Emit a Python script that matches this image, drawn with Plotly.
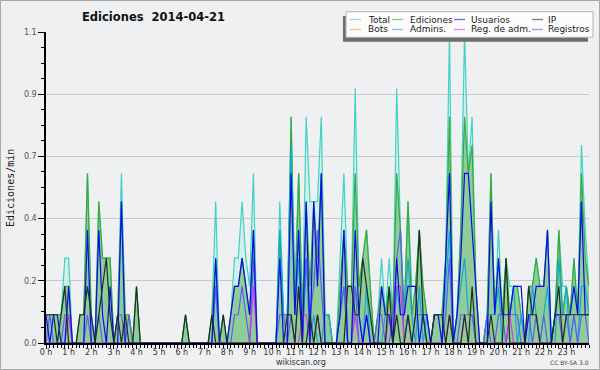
import plotly.graph_objects as go

# ---- data: edits per minute in 10-minute steps, 2014-04-21 (145 points, 0 h .. 24 h) ----
hour_labels = [f"{h} h" for h in range(24)]
times = [i / 6 for i in range(145)]

total = [0.1,0.1,0.1,0.1,0.1,0.3, 0.3,0,0,0.1,0.1,0.6, 0.1,0,0.5,0.3,0.3,0.3, 0,0.1,0.6,0.1,0.1,0,
         0.2,0,0,0,0,0, 0,0,0,0,0,0, 0,0.1,0,0,0,0, 0,0,0.1,0.5,0,0.1,
         0,0.1,0.3,0.3,0.5,0.3, 0.2,0.6,0,0,0,0, 0,0,0.5,0.1,0.1,0.8, 0.2,0.6,0.1,0.8,0.5,0.5,
         0.5,0.8,0.1,0.1,0,0, 0.3,0.6,0.2,0.2,0.9,0.2, 0.3,0.4,0.2,0,0.1,0.3, 0.1,0.3,0.1,0.9,0.4,0.1,
         0.5,0.2,0.2,0.4,0.2,0.1, 0,0.1,0.1,0.1,0.3,1.1, 0,0.1,0.4,1.1,0.6,0.8, 0.2,0,0,0.1,0.6,0.1,
         0.4,0.1,0.3,0.2,0.2,0.2, 0.1,0,0.2,0.2,0.3,0.2, 0.2,0.4,0,0.1,0.4,0.2, 0.2,0.1,0.3,0.1,0.7,0.4,
         0.2]
ediciones = [0.1,0.1,0.1,0.1,0.1,0.2, 0.2,0,0,0.1,0.1,0.6, 0.1,0,0.5,0.3,0.3,0.3, 0,0.1,0.5,0.1,0.1,0,
             0.2,0,0,0,0,0, 0,0,0,0,0,0, 0,0.1,0,0,0,0, 0,0,0.1,0.3,0,0.1,
             0,0.1,0.2,0.2,0.3,0.2, 0.1,0.4,0,0,0,0, 0,0,0.4,0.1,0.1,0.8, 0.1,0.6,0.1,0.5,0.2,0.5,
             0.3,0.6,0.1,0.1,0,0, 0.2,0.4,0.2,0.2,0.6,0.2, 0.3,0.4,0.2,0,0.1,0.2, 0.1,0.2,0.1,0.6,0.4,0.1,
             0.5,0.1,0.2,0.4,0.2,0.1, 0,0.1,0.1,0.1,0.3,0.8, 0,0.1,0.4,0.8,0.6,0.7, 0.2,0,0,0.1,0.6,0.1,
             0.3,0.1,0.3,0.1,0.2,0.2, 0.1,0,0.2,0.2,0.3,0.2, 0.2,0.4,0,0.1,0.4,0.1, 0.2,0.1,0.3,0.1,0.6,0.3,
             0.2]
usuarios = [0.1,0,0.1,0.1,0,0, 0.2,0,0,0,0,0.4, 0,0,0.4,0.1,0,0.2, 0,0,0.5,0,0,0,
            0,0,0,0,0,0, 0,0,0,0,0,0, 0,0,0,0,0,0, 0,0,0,0.3,0,0,
            0,0.1,0.2,0.2,0.3,0.2, 0.1,0.4,0,0,0,0, 0,0,0.3,0,0,0.6, 0.1,0.4,0,0.5,0,0.5,
            0.2,0.6,0,0,0,0, 0.1,0.4,0,0,0.4,0.1, 0,0.1,0,0,0,0.2, 0.1,0.1,0,0.3,0.1,0.1,
            0.2,0.2,0.2,0,0.1,0.1, 0,0.1,0.1,0,0.3,0.6, 0,0.1,0.3,0.6,0.6,0.4, 0.2,0,0,0,0.5,0.1,
            0.3,0.1,0.1,0.1,0.2,0.2, 0.2,0,0.1,0.1,0.2,0.2, 0.2,0.4,0,0.1,0.1,0.1, 0.1,0.1,0.2,0.1,0.5,0.1,
            0.1]
ip = [0.1,0.1,0.1,0,0.1,0.2, 0,0,0,0.1,0.1,0.2, 0.1,0,0.1,0.2,0.3,0.1, 0,0.1,0,0.1,0,0,
      0.2,0,0,0,0,0, 0,0,0,0,0,0, 0,0.1,0,0,0,0, 0,0,0.1,0,0,0.1,
      0,0,0,0,0,0, 0,0,0,0,0,0, 0,0,0,0,0.1,0.1, 0,0.2,0,0,0.1,0,
      0.1,0,0,0,0,0, 0,0,0.2,0.2,0.1,0.1, 0.3,0.2,0.1,0,0,0, 0,0.2,0,0.1,0,0,
      0.1,0,0.1,0.4,0.1,0, 0,0.1,0.1,0.1,0,0.1, 0,0,0,0.1,0,0.2, 0,0,0,0,0.1,0,
      0,0,0.3,0,0,0, 0,0,0.2,0.1,0.1,0, 0,0,0,0.1,0.2,0, 0.1,0.1,0.1,0.1,0.1,0.1,
      0.1]
registros = [0,0.1,0,0,0,0.1, 0.1,0,0,0,0,0.1, 0,0,0.1,0,0,0, 0,0.1,0.1,0,0.1,0,
             0,0,0,0,0,0, 0,0,0,0,0,0, 0,0,0,0,0,0, 0,0,0,0.2,0,0,
             0,0,0.1,0.1,0.2,0.1, 0,0.3,0,0,0,0, 0,0,0.1,0.1,0,0.1, 0,0.2,0,0.3,0.1,0.2,
             0.4,0.2,0,0,0,0, 0.1,0.2,0,0,0.2,0, 0,0.1,0,0,0.1,0.1, 0,0,0.1,0.3,0.4,0,
             0.1,0,0.1,0.1,0.1,0, 0,0,0,0,0.1,0.3, 0,0,0.1,0.1,0.1,0.1, 0,0,0,0.1,0,0,
             0.1,0.1,0,0.1,0.1,0.1, 0,0,0.1,0,0.1,0, 0.1,0,0,0.1,0.1,0, 0.1,0,0.1,0,0.1,0.1,
             0]
admins = [0,0,0,0,0,0, 0,0,0,0,0,0, 0,0,0,0,0,0, 0,0,0,0,0,0,
          0,0,0,0,0,0, 0,0,0,0,0,0, 0,0,0,0,0,0, 0,0,0,0.2,0,0,
          0,0,0,0,0,0, 0,0,0,0,0,0, 0,0,0.4,0.1,0.1,0.7, 0.1,0.3,0,0.3,0,0.1,
          0,0,0.1,0.1,0,0, 0.1,0.2,0,0,0.2,0.1, 0,0.2,0,0,0,0, 0.1,0.1,0,0.2,0.1,0.1,
          0.3,0.1,0,0.2,0,0.1, 0,0,0,0,0.2,0.4, 0,0.1,0.2,0.3,0.1,0.1, 0,0,0,0.1,0.1,0.1,
          0.2,0,0,0.1,0.2,0, 0.1,0,0,0.2,0.1,0, 0.1,0.2,0,0,0.3,0.1, 0.2,0,0.1,0,0.2,0.2,
          0.1]
reg_adm = [0,0,0,0,0,0, 0.1,0,0,0,0,0, 0,0,0,0,0,0, 0,0,0,0,0,0,
           0,0,0,0,0,0, 0,0,0,0,0,0, 0,0,0,0,0,0, 0,0,0,0,0,0,
           0,0,0,0,0,0, 0,0.2,0,0,0,0, 0,0,0,0,0,0, 0,0,0.1,0.1,0,0,
           0.1,0,0,0,0,0, 0,0,0,0,0.1,0, 0,0,0,0,0,0, 0,0.1,0,0.2,0.2,0,
           0,0,0,0,0,0, 0,0,0,0,0,0.1, 0,0,0,0.1,0,0, 0,0,0,0,0,0,
           0,0,0,0.1,0,0, 0,0,0,0,0,0, 0,0,0,0,0,0, 0,0,0,0,0,0,
           0]
bots = [0] * 145

# ---- layout constants ----
W, H = 600, 370
L, R, T, B = 46, 11, 32, 27
PW, PH = W - L - R, H - T - B
BG = "#eff0f2"
FONT = "DejaVu Sans"

def px(x):
    return (x - L) / PW

def py(y):
    return (H - B - y) / PH

C_TOTAL = "#40d2c6"
C_EDIC = "#3aa83a"
C_USU = "#0a0af0"
C_IP = "#1e2e1e"
C_BOTS = "#f59a2a"
C_ADM = "#14a8d4"
C_REGADM = "#d038e0"
C_REG = "#5e5ef2"

fig = go.Figure()

def line(y, color, width=1.2):
    fig.add_trace(go.Scatter(x=times, y=y, mode="lines",
                             line=dict(color=color, width=width),
                             showlegend=False, hoverinfo="skip"))

line(bots, C_BOTS)
# fills first
fig.add_trace(go.Scatter(x=times, y=total, mode="lines", line=dict(width=0),
                         fill="tozeroy", fillcolor="rgba(200,240,230,0.75)",
                         showlegend=False, hoverinfo="skip"))
fig.add_trace(go.Scatter(x=times, y=ediciones, mode="lines", line=dict(width=0),
                         fill="tozeroy", fillcolor="rgba(115,188,115,0.70)",
                         showlegend=False, hoverinfo="skip"))
# lines
line(total, C_TOTAL)
line(ediciones, C_EDIC)
line(admins, C_ADM)
line(registros, C_REG)
line(reg_adm, C_REGADM)
line(usuarios, C_USU)
line(ip, C_IP)

shapes = []
annotations = []

# outer frame
shapes.append(dict(type="rect", xref="paper", yref="paper",
                   x0=px(0.5), x1=px(599.5), y0=py(369.5), y1=py(0.5),
                   line=dict(color="#a8a8a8", width=1), layer="above"))

# legend box with shadow
shapes.append(dict(type="rect", xref="paper", yref="paper",
                   x0=px(343), x1=px(588), y0=py(41.7), y1=py(16),
                   fillcolor="#6e6e6e", line=dict(width=0), layer="above"))
shapes.append(dict(type="rect", xref="paper", yref="paper",
                   x0=px(346), x1=px(593), y0=py(37.3), y1=py(11.7),
                   fillcolor="#fcfcfc", line=dict(color="#b4b4b4", width=1), layer="above"))

legend_items = [
    ("Total", C_TOTAL, 0, 0), ("Ediciones", C_EDIC, 1, 0), ("Usuarios", C_USU, 2, 0), ("IP", C_IP, 3, 0),
    ("Bots", C_BOTS, 0, 1), ("Admins.", C_ADM, 1, 1), ("Reg. de adm.", C_REGADM, 2, 1), ("Registros", C_REG, 3, 1),
]
sw_x = [350, 392, 454, 532]
tx_x = [365.5, 407.5, 468.5, 545.5]
row_y = [19.5, 29.5]
for name, color, col, row in legend_items:
    shapes.append(dict(type="line", xref="paper", yref="paper",
                       x0=px(sw_x[col]), x1=px(sw_x[col] + 11),
                       y0=py(row_y[row]), y1=py(row_y[row]),
                       line=dict(color=color, width=1.3), layer="above", opacity=0.6))
    annotations.append(dict(text=name, xref="paper", yref="paper",
                            x=px(tx_x[col]), y=py(row_y[row]), xanchor="left", yanchor="middle",
                            showarrow=False, font=dict(family=FONT, size=9, color="#1a1a1a")))

# title
annotations.append(dict(text="<b>Ediciones\u00a0 2014-04-21</b>", xref="paper", yref="paper",
                        x=px(153), y=py(17), xanchor="center", yanchor="middle", showarrow=False,
                        font=dict(family=FONT, size=11.5, color="#111111")))
# y title
annotations.append(dict(text="Ediciones/min", xref="paper", yref="paper",
                        x=px(10), y=py(188), xanchor="center", yanchor="middle", showarrow=False,
                        textangle=-90, font=dict(family="DejaVu Sans Mono", size=10, color="#1a1a1a")))
# footer
annotations.append(dict(text="wikiscan.org", xref="paper", yref="paper",
                        x=px(300.5), y=py(362), xanchor="center", yanchor="middle", showarrow=False,
                        font=dict(family=FONT, size=8, color="#333333")))
annotations.append(dict(text="CC BY-SA 3.0", xref="paper", yref="paper",
                        x=px(569), y=py(362), xanchor="center", yanchor="middle", showarrow=False,
                        font=dict(family=FONT, size=6, color="#444444")))

y_tickvals = [0, 0.22, 0.44, 0.66, 0.88, 1.1]
y_ticktext = ["0.0", "0.2", "0.4", "0.7", "0.9", "1.1"]

fig.update_layout(
    width=W, height=H,
    margin=dict(l=L, r=R, t=T, b=B, pad=0),
    paper_bgcolor=BG, plot_bgcolor=BG,
    showlegend=False,
    hovermode=False,
    shapes=shapes,
    annotations=annotations,
    xaxis=dict(range=[0, 24], tickmode="array", tickvals=list(range(24)), ticktext=hour_labels,
               ticks="outside", ticklen=4, tickwidth=1, tickcolor="black",
               ticklabelstandoff=-3,
               showline=True, linecolor="black", linewidth=1.5,
               showgrid=False, zeroline=False,
               tickfont=dict(family=FONT, size=8, color="#333333"),
               minor=dict(tickmode="linear", tick0=0, dtick=1 / 6, ticks="outside",
                          ticklen=3, tickwidth=1, tickcolor="black", showgrid=False)),
    yaxis=dict(range=[0, 1.1], tickmode="array", tickvals=y_tickvals, ticktext=y_ticktext,
               ticks="outside", ticklen=6, tickwidth=1, tickcolor="black",
               showline=True, linecolor="black", linewidth=1.5,
               showgrid=True, gridcolor="#c9c9c9", gridwidth=1, zeroline=False,
               tickfont=dict(family=FONT, size=8, color="#555555"),
               minor=dict(tickmode="linear", tick0=0, dtick=0.055, ticks="outside",
                          ticklen=3, tickwidth=1, tickcolor="black", showgrid=False)),
)

fig.write_html("out.html", config={"displayModeBar": False},
               post_script="document.body.style.margin='0';document.body.style.padding='0';"
                           "document.body.style.overflow='hidden';")
